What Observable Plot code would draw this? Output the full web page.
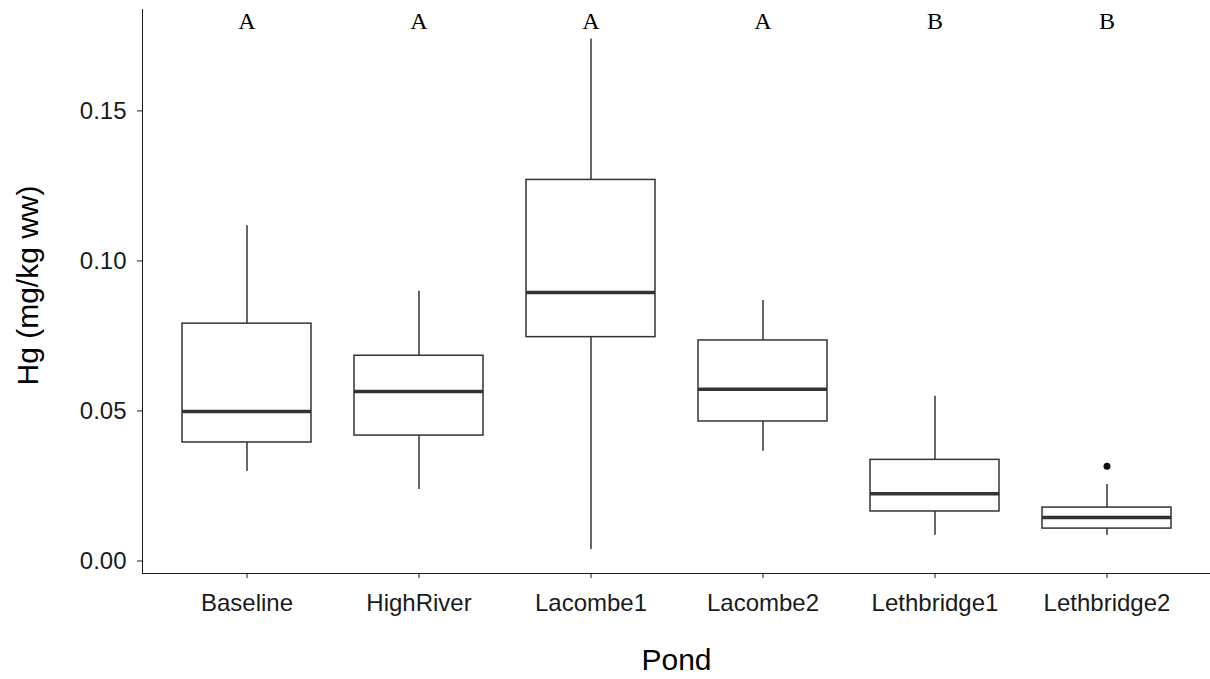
<!DOCTYPE html>
<html>
<head>
<meta charset="utf-8">
<script src="https://cdn.jsdelivr.net/npm/d3@7"></script>
<script src="https://cdn.jsdelivr.net/npm/@observablehq/plot@0.6"></script>
<style>
  html, body { margin: 0; padding: 0; background: #fff; }
  #chart svg { display: block; }
</style>
</head>
<body>
<div id="chart"></div>
<script>
// Box-plot summaries of Hg concentration per pond
const ponds   = ["Baseline", "HighRiver", "Lacombe1", "Lacombe2", "Lethbridge1", "Lethbridge2"];
const lower   = [0.0298, 0.0238, 0.0038, 0.0366, 0.0086, 0.0086];
const q1      = [0.0395, 0.0418, 0.0746, 0.0465, 0.0165, 0.0108];
const median  = [0.0498, 0.0565, 0.0895, 0.0572, 0.0224, 0.0145];
const q3      = [0.0791, 0.0684, 0.1270, 0.0735, 0.0337, 0.0178];
const upper   = [0.1117, 0.0899, 0.1740, 0.0868, 0.0549, 0.0255];
const letters = ["A", "A", "A", "A", "B", "B"];

// Outlying observations beyond the whiskers
const outlierPonds  = ["Lethbridge2"];
const outlierValues = [0.0316];

const yTicks = [0, 0.05, 0.10, 0.15];
const xTitle = "Pond";
const yTitle = "Hg (mg/kg ww)";

const boxes = ponds.map((p, i) => ({
  pond: p, lower: lower[i], q1: q1[i], median: median[i], q3: q3[i], upper: upper[i], letter: letters[i]
}));
const outliers = outlierPonds.map((p, i) => ({pond: p, value: outlierValues[i]}));

const ink = "#333333";
const sans = "'Liberation Sans', Arial, sans-serif";

const chart = Plot.plot({
  width: 1210,
  height: 679,
  marginLeft: 142,
  marginRight: 0,
  marginTop: 9,
  marginBottom: 106,
  style: {fontFamily: sans, fontSize: "24px", color: "#1a1a1a", background: "#fff"},
  x: {
    domain: ponds,
    paddingInner: 0.25,
    paddingOuter: 0.225,
    label: null,
    line: true,
    tickSize: 5,
    tickPadding: 15
  },
  y: {
    domain: [-0.00417, 0.1838],
    ticks: yTicks,
    tickFormat: d3.format(".2f"),
    label: null,
    line: true,
    tickSize: 5,
    tickPadding: 11
  },
  marks: [
    Plot.ruleX(boxes, {x: "pond", y1: "lower", y2: "upper", stroke: ink, strokeWidth: 1.5}),
    Plot.barY(boxes, {x: "pond", y1: "q1", y2: "q3", fill: "#fff", stroke: ink, strokeWidth: 1.5}),
    Plot.tickY(boxes, {x: "pond", y: "median", stroke: ink, strokeWidth: 3.5}),
    Plot.dot(outliers, {x: "pond", y: "value", r: 3.5, fill: "#111", stroke: "none"}),
    Plot.text(boxes, {x: "pond", text: "letter", frameAnchor: "top", lineAnchor: "top", dy: 2,
      fontFamily: "'Liberation Serif', 'Times New Roman', serif", fontSize: 24, fill: "#000"}),
    Plot.text([xTitle], {frameAnchor: "bottom", lineAnchor: "middle", dy: 87, fontSize: 30, fill: "#000"}),
    Plot.text([yTitle], {frameAnchor: "left", textAnchor: "middle", lineAnchor: "middle",
      dx: -114, dy: -6, rotate: -90, fontSize: 30, fill: "#000"})
  ]
});

document.getElementById("chart").appendChild(chart);
</script>
</body>
</html>
